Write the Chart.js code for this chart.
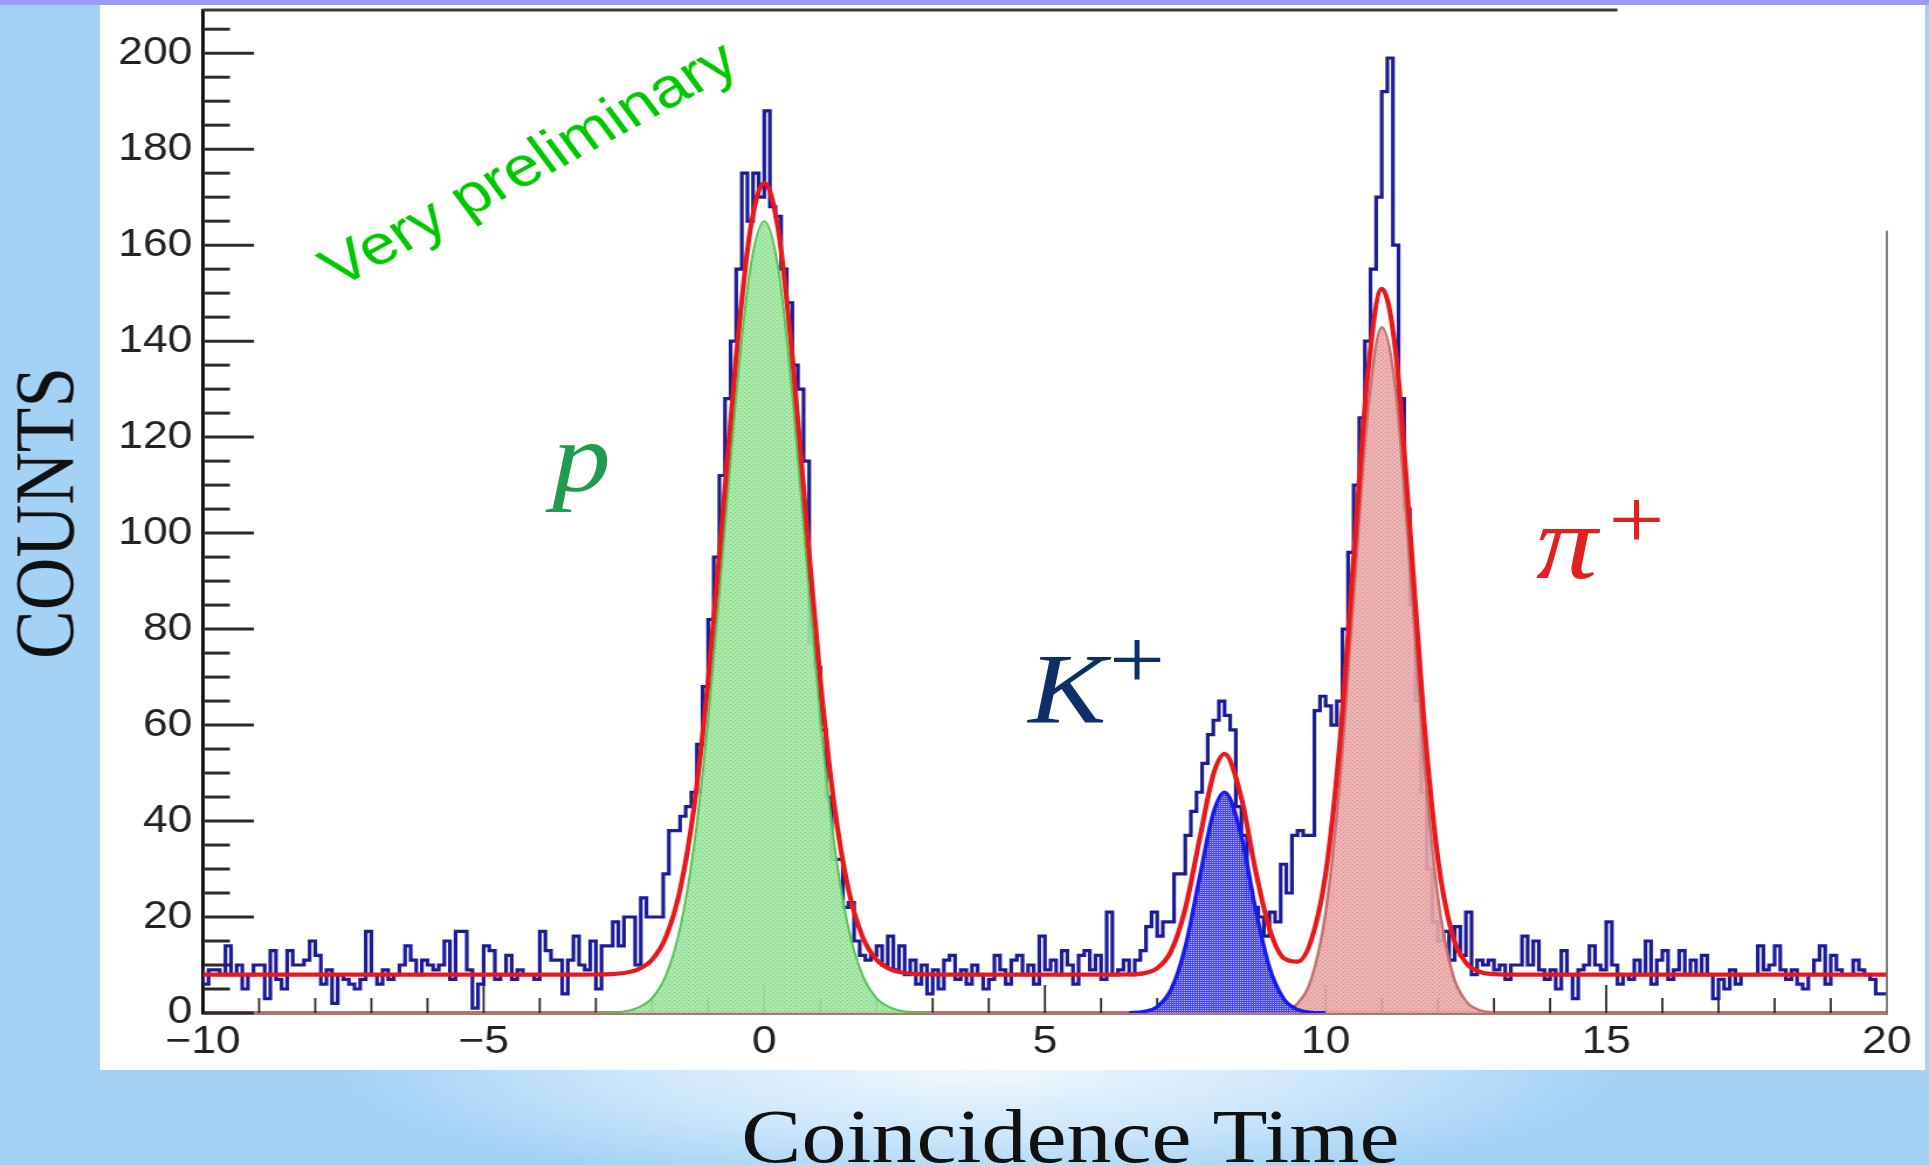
<!DOCTYPE html>
<html>
<head>
<meta charset="utf-8">
<script src="https://cdn.jsdelivr.net/npm/chart.js@4/dist/chart.umd.min.js"></script>
<style>
  html, body { margin:0; padding:0; }
  body { width:1929px; height:1165px; overflow:hidden; position:relative; background:#a3d2f5; }
  #swoosh { position:absolute; left:0; top:1000px; width:1929px; height:165px;
    background: radial-gradient(ellipse 640px 120px at 980px 70px, rgba(255,255,255,0.85) 0%, rgba(255,255,255,0.45) 55%, rgba(255,255,255,0) 100%); }
  #topbar { position:absolute; left:0; top:0; width:1929px; height:5px; background:#9e9bf6; }
  #panel { position:absolute; left:100px; top:5px; width:1825px; height:1065px; background:#ffffff; }
  #stage { position:absolute; left:0; top:0; width:1649px; height:1165px; transform:scaleX(1.1698); transform-origin:0 0; }
  #c { position:absolute; left:0; top:0; }
  .lbl { position:absolute; white-space:nowrap; line-height:1; }
</style>
</head>
<body>
<div id="swoosh"></div>
<div id="topbar"></div>
<div id="panel"></div>
<div id="stage">
  <canvas id="c" width="1649" height="1165" style="width:1649px;height:1165px"></canvas>
  <div class="lbl" style="left:451px; top:162px; transform:translate(-50%,-50%) rotate(-32.4deg); font:57px 'Liberation Sans', Arial, sans-serif; color:#00c800;">Very preliminary</div>
  <div class="lbl" style="left:472px; top:400px; font:italic 100px 'Liberation Serif', 'Times New Roman', serif; color:#1f9c4f;">p</div>
  <div class="lbl" style="left:879px; top:631px; font:italic 100px 'Liberation Serif', 'Times New Roman', serif; color:#0e2e6a;">K</div>
  <div class="lbl" style="left:948px; top:610px; font:85px 'Liberation Serif', 'Times New Roman', serif; color:#0e2e6a;">+</div>
  <div class="lbl" style="left:1313px; top:482px; font:italic 105px 'Liberation Serif', 'Times New Roman', serif; color:#e41f1f;">π</div>
  <div class="lbl" style="left:1375px; top:470px; font:85px 'Liberation Serif', 'Times New Roman', serif; color:#e41f1f;">+</div>
  <div class="lbl" style="left:38.7px; top:513px; transform:translate(-50%,-50%) rotate(-90deg); font:73px 'Liberation Serif', 'Times New Roman', serif; color:#111;">COUNTS</div>
  <div class="lbl" style="left:915px; top:1092px; transform:translateX(-50%); font:77px 'Liberation Serif', 'Times New Roman', serif; color:#111;">Coincidence Time</div>
</div>
<script>
// ---------------- data ----------------
const binStart = -10;
const binWidth = 0.1;
const counts = [
  9, 6, 9, 9, 8, 14, 8, 10, 5, 8,
  10, 10, 3, 13, 7, 5, 13, 10, 10, 11,
  15, 12, 6, 9, 2, 8, 7, 6, 5, 7,
  17, 8, 6, 9, 7, 8, 10, 14, 11, 8,
  11, 10, 9, 10, 15, 7, 17, 17, 9, 1,
  6, 14, 13, 7, 8, 12, 7, 9, 8, 8,
  7, 17, 13, 11, 11, 4, 11, 16, 10, 9,
  15, 5, 14, 14, 19, 14, 20, 20, 10, 24,
  20, 20, 20, 29, 38, 38, 41, 43, 46, 56,
  68, 82, 95, 112, 128, 140, 155, 175, 165, 175,
  170, 188, 168, 166, 155, 148, 135, 130, 115, 77,
  72, 59, 45, 32, 32, 22, 23, 15, 12, 11,
  12, 14, 10, 16, 9, 14, 8, 11, 6, 10,
  4, 9, 5, 11, 12, 7, 9, 6, 10, 8,
  5, 7, 12, 9, 6, 11, 12, 8, 10, 6,
  16, 9, 11, 8, 13, 10, 6, 12, 13, 9,
  12, 7, 21, 8, 9, 11, 8, 11, 13, 18,
  21, 16, 19, 19, 29, 29, 37, 42, 46, 52,
  58, 61, 65, 62, 59, 43, 37, 24, 22, 20,
  16, 21, 19, 31, 25, 37, 38, 37, 37, 63,
  66, 64, 60, 65, 80, 96, 110, 124, 140, 155,
  170, 192, 199, 160, 128, 105, 85, 65, 46, 30,
  19, 15, 17, 11, 18, 12, 21, 8, 11, 10,
  11, 9, 10, 7, 10, 10, 16, 10, 15, 9,
  7, 9, 5, 13, 8, 3, 9, 10, 14, 10,
  9, 19, 10, 6, 8, 7, 11, 8, 15, 6,
  11, 13, 7, 9, 13, 8, 11, 8, 12, 8,
  3, 7, 5, 9, 6, 8, 8, 8, 14, 9,
  10, 14, 9, 7, 9, 6, 5, 8, 11, 14,
  6, 12, 9, 8, 8, 11, 9, 8, 7, 4
];

// total fit (red)
const totalFitX = [-10, -4, -3.5, -3.25, -3, -2.75, -2.5, -2.25, -2, -1.75, -1.5, -1.25, -1, -0.75, -0.5, -0.25,
  0, 0.25, 0.5, 0.75, 1, 1.25, 1.5, 1.75, 2, 2.25, 2.5, 2.75, 3, 3.25, 3.5, 4, 6, 6.5, 6.75, 7, 7.25, 7.5, 7.75,
  8, 8.2, 8.5, 8.75, 9, 9.25, 9.5, 9.75, 10, 10.25, 10.5, 10.75, 11, 11.25, 11.5, 11.75, 12, 12.25, 12.5, 12.75,
  13, 13.25, 13.5, 14, 20];
const totalFitY = [8, 8, 8, 8, 8.02, 8.09, 8.33, 9.09, 11.1, 15.9, 25.7, 43.0, 69.2, 102.4, 136.8, 163.1,
  173, 163.1, 136.8, 102.4, 69.2, 43.0, 25.7, 15.9, 11.1, 9.09, 8.33, 8.09, 8.02, 8, 8, 8, 8, 8.04, 8.26, 9.31, 12.95, 21.72, 35.9,
  49.67, 54.0, 44.83, 29.81, 17.55, 11.46, 10.7, 15.37, 28.9, 55.78, 94.73, 132.97, 150.9, 137.7, 101.4, 61.38, 32.21, 16.72, 10.49, 8.57,
  8.1, 8.01, 8, 8, 8];

// proton component (green)
const protonFitX = [-3, -2.75, -2.5, -2.25, -2, -1.75, -1.5, -1.25, -1, -0.75, -0.5, -0.25, 0, 0.25, 0.5, 0.75, 1, 1.25, 1.5, 1.75, 2, 2.25, 2.5, 2.75, 3];
const protonFitY = [0, 0.1, 0.3, 1.1, 3.1, 7.9, 17.7, 35.0, 61.2, 94.4, 128.8, 155.1, 165, 155.1, 128.8, 94.4, 61.2, 35.0, 17.7, 7.9, 3.1, 1.1, 0.3, 0.1, 0];

// kaon component (blue)
const kaonFitX = [6.5, 6.75, 7, 7.25, 7.5, 7.75, 8, 8.2, 8.5, 8.75, 9, 9.25, 9.5, 9.75, 10];
const kaonFitY = [0.04, 0.26, 1.31, 4.95, 13.72, 27.9, 41.67, 46, 36.83, 21.8, 9.47, 3.02, 0.71, 0.12, 0.02];

// pion component (pink)
const pionFitX = [9, 9.25, 9.5, 9.75, 10, 10.25, 10.5, 10.75, 11, 11.25, 11.5, 11.75, 12, 12.25, 12.5, 12.75, 13];
const pionFitY = [0.08, 0.44, 1.99, 7.25, 20.88, 47.78, 86.73, 124.97, 142.9, 129.7, 93.4, 53.38, 24.21, 8.72, 2.49, 0.57, 0.1];

// axis settings
const xMin = -10, xMax = 20, xMajorStep = 5, xMinorStep = 1;
const yMin = 0, yMax = 209, yMajorStep = 20, yMinorStep = 5, yMinorTop = 205;
const frameTopEndX = 15.2;     // partial top frame line (cropped original)
const frameRightTopY = 163;    // partial right frame line

// ---------------- build ----------------
const histPoints = counts.map((c, i) => ({x: binStart + i * binWidth, y: c}));
histPoints.push({x: binStart + counts.length * binWidth, y: counts[counts.length - 1]});
const zip = (xs, ys) => xs.map((x, i) => ({x, y: ys[i]}));

function makePattern(base, dot, alpha, dots) {
  const p = document.createElement('canvas');
  p.width = 4; p.height = 4;
  const g = p.getContext('2d');
  g.globalAlpha = alpha;
  g.fillStyle = base; g.fillRect(0, 0, 4, 4);
  g.fillStyle = dot;
  dots.forEach(([a, b]) => g.fillRect(a, b, 1, 1));
  return g.createPattern(p, 'repeat');
}
const ctx = document.getElementById('c').getContext('2d');
const greenFill = makePattern('#a2e7a2', '#72c872', 0.92, [[0, 0], [2, 2]]);
const blueFill = makePattern('#3c3ce0', '#c4c4ff', 0.95, [[0, 0], [2, 0], [0, 2], [2, 2]]);
const pinkFill = makePattern('#ebabab', '#d08282', 0.9, [[0, 0], [2, 2]]);

const axisMarks = {
  id: 'axisMarks',
  beforeDatasetsDraw(chart) {
    const {ctx, chartArea: a, scales: {x, y}} = chart;
    ctx.save();
    ctx.strokeStyle = '#2a2a2a';
    ctx.lineWidth = 3;
    for (let v = yMin; v <= yMinorTop; v += yMinorStep) {
      const py = y.getPixelForValue(v);
      const len = (v % yMajorStep === 0) ? 43.6 : 23;
      ctx.beginPath(); ctx.moveTo(a.left, py); ctx.lineTo(a.left + len, py); ctx.stroke();
    }
    ctx.lineWidth = 1.8;
    for (let v = xMin + xMinorStep; v < xMax; v += xMinorStep) {
      const px = x.getPixelForValue(v);
      const len = (v % xMajorStep === 0) ? 28 : 15;
      ctx.beginPath(); ctx.moveTo(px, a.bottom); ctx.lineTo(px, a.bottom - len); ctx.stroke();
    }
    ctx.restore();
  },
  afterDraw(chart) {
    const {ctx, chartArea: a, scales: {x, y}} = chart;
    ctx.save();
    ctx.strokeStyle = '#3a3a3a';
    ctx.lineWidth = 3;
    ctx.beginPath(); ctx.moveTo(a.left, a.top); ctx.lineTo(x.getPixelForValue(frameTopEndX), a.top); ctx.stroke();
    ctx.strokeStyle = '#707070';
    ctx.lineWidth = 1.8;
    ctx.beginPath(); ctx.moveTo(a.right, y.getPixelForValue(frameRightTopY)); ctx.lineTo(a.right, a.bottom); ctx.stroke();
    ctx.restore();
  }
};

const tickFont = {family: "'Liberation Sans', Arial, sans-serif", size: 38};

new Chart(ctx, {
  type: 'line',
  data: {
    datasets: [
      {label: 'Total fit', data: zip(totalFitX, totalFitY), borderColor: '#e8191c', borderWidth: 4.2,
       cubicInterpolationMode: 'monotone', pointRadius: 0, fill: false, order: 0},
      {label: 'p', data: zip(protonFitX, protonFitY), borderColor: '#55c455', borderWidth: 2,
       backgroundColor: greenFill, fill: 'origin', cubicInterpolationMode: 'monotone', pointRadius: 0, order: 2},
      {label: 'K+', data: zip(kaonFitX, kaonFitY), borderColor: '#1a1aee', borderWidth: 3.5,
       backgroundColor: blueFill, fill: 'origin', cubicInterpolationMode: 'monotone', pointRadius: 0, order: 2},
      {label: 'pi+', data: zip(pionFitX, pionFitY), borderColor: '#c77070', borderWidth: 2.5,
       backgroundColor: pinkFill, fill: 'origin', cubicInterpolationMode: 'monotone', pointRadius: 0, order: 2},
      {label: 'Counts', data: histPoints, borderColor: '#1c1c96', borderWidth: 3.2, stepped: 'after',
       pointRadius: 0, fill: false, order: 5}
    ]
  },
  options: {
    responsive: false,
    animation: false,
    layout: {padding: {top: 10, right: 36, left: 0, bottom: 0}},
    plugins: {legend: {display: false}, tooltip: {enabled: false}},
    scales: {
      x: {
        type: 'linear', min: xMin, max: xMax,
        grid: {display: false, drawTicks: false},
        border: {color: '#b07474', width: 4},
        ticks: {stepSize: xMajorStep, padding: 7, font: tickFont, color: '#222',
          callback: v => (v < 0 ? '\u2212' + Math.abs(v) : String(v))},
        afterFit: s => { s.height = 152; s.paddingLeft = 0; s.paddingRight = 0; }
      },
      y: {
        type: 'linear', min: yMin, max: yMax,
        grid: {display: false, drawTicks: false},
        border: {color: '#111', width: 3},
        ticks: {stepSize: yMajorStep, includeBounds: false, padding: 9, font: tickFont, color: '#222'},
        afterFit: s => { s.width = 173.5; s.paddingTop = 0; s.paddingBottom = 0; }
      }
    }
  },
  plugins: [axisMarks]
});
</script>
</body>
</html>
